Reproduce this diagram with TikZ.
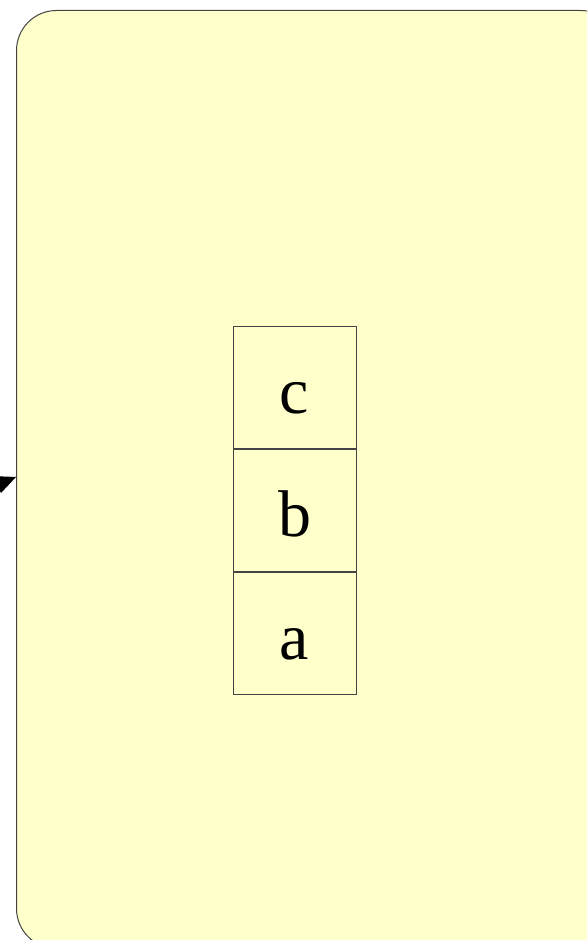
\documentclass[tikz,border=0pt]{standalone}
\usepackage{fontspec}
\setmainfont{Liberation Serif}
\usepackage{tikz}
\usetikzlibrary{positioning, arrows.meta}
\definecolor{paleyellow}{RGB}{255, 255, 204}
\definecolor{edgegray}{RGB}{68, 68, 68}

\begin{document}
\begin{tikzpicture}[
      x=1pt, y=1pt,
      node distance=0pt,
      frame/.style={
        draw=edgegray, fill=paleyellow, rounded corners=40pt,
        line width=1pt, anchor=north west,
        minimum width=604pt, minimum height=938pt
      },
      cell/.style={
        draw=edgegray, fill=paleyellow, line width=1pt,
        minimum width=123pt, minimum height=122pt,
        text height=52pt, text depth=0pt,
        font=\fontsize{66}{66}\selectfont
      }
    ]
      \useasboundingbox (0,0) rectangle (587,940);
      \clip (0,0) rectangle (587,940);
      \node[frame] (stack) at (16,930) {};
      \node[cell] (c) at (294.5,552) {c};
      \node[cell, below=of c] (b) {b};
      \node[cell, below=of b] (a) {a};

      \coordinate (src) at (-40,440);
      \draw[-{Triangle[length=20pt, width=18pt]}, line width=1pt] (src) -- (stack.west |- 0,463);
    \end{tikzpicture}
\end{document}
